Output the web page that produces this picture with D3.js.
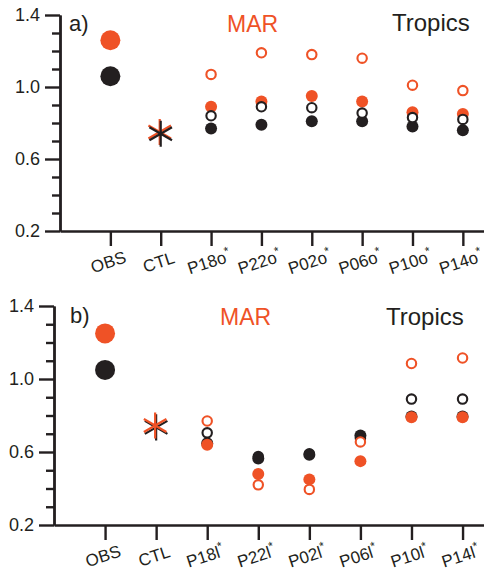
<!DOCTYPE html>
<html>
<head>
<meta charset="utf-8">
<script src="https://cdn.jsdelivr.net/npm/d3@7"></script>
<style>
  body { margin: 0; background: #fff; }
  svg { display: block; font-family: "Liberation Sans", Helvetica, Arial, sans-serif; }
  .axis path, .axis line { stroke: #231f20; stroke-width: 2.4; }
  .axis text { fill: #231f20; font-size: 18px; }
</style>
</head>
<body>
<svg id="chart" width="484" height="572"></svg>
<script>
// categories
var catsA = ["OBS", "CTL", "P18o", "P22o", "P02o", "P06o", "P10o", "P14o"]
var catsB = ["OBS", "CTL", "P18l", "P22l", "P02l", "P06l", "P10l", "P14l"]

// OBS big dots [orange, black]
var obsA = [1.26, 1.06]
var obsB = [1.25, 1.05]
// CTL asterisks [orange, black]
var ctlA = [0.75, 0.74]
var ctlB = [0.745, 0.735]

// experiments (third category onwards)
var orangeFilledA = [0.89, 0.92, 0.95, 0.92, 0.86, 0.85]
var blackFilledA = [0.77, 0.79, 0.81, 0.81, 0.78, 0.76]
var orangeOpenA = [1.07, 1.19, 1.18, 1.16, 1.01, 0.98]
var blackOpenA = [0.84, 0.89, 0.885, 0.855, 0.83, 0.82]

var orangeFilledB = [0.64, 0.48, 0.45, 0.55, 0.79, 0.79]
var blackFilledB = [0.648, 0.565, 0.585, 0.69, 0.795, 0.795]
var orangeOpenB = [0.77, 0.42, 0.395, 0.655, 1.085, 1.115]
var blackOpenB = [0.705, 0.575, 0.59, 0.675, 0.89, 0.89]

var majorTicks = [0.2, 0.6, 1.0, 1.4]
var minorTicks = [0.3, 0.4, 0.5, 0.7, 0.8, 0.9, 1.1, 1.2, 1.3]

var ORANGE = "#ef5226"
var BLACK = "#231f20"

var svg = d3.select("#chart")

function drawPanel(opt) {
    var g = svg.append("g").attr("transform", "translate(" + opt.left + "," + opt.top + ")")
    var width = 484 - opt.left,
        height = opt.height

    var x = d3.scaleLinear().domain([-1, 7.42]).range([0, width])
    var y = d3.scaleLinear().domain([0.2, 1.4]).range([height, 0])

    // y axis
    g.append("g").attr("class", "axis")
        .call(d3.axisLeft(y).tickValues(minorTicks).tickSize(8).tickSizeOuter(0).tickFormat(""))
    g.append("g").attr("class", "axis")
        .call(d3.axisLeft(y).tickValues(majorTicks).tickSize(15).tickSizeOuter(0).tickPadding(5).tickFormat(d3.format(".1f")))

    // x axis
    g.append("g").attr("class", "axis")
        .attr("transform", "translate(0," + height + ")")
        .call(d3.axisBottom(x).tickValues(d3.range(opt.cats.length)).tickSize(15).tickSizeOuter(0).tickFormat(""))

    var lab = g.selectAll(".xlab").data(opt.cats).enter().append("text")
        .attr("class", "xlab")
        .attr("transform", function (d, i) { return "translate(" + (x(i) - 2) + "," + (height + 31) + ") rotate(-18)" })
        .attr("text-anchor", "middle")
        .attr("dy", "0.35em")
        .attr("fill", BLACK)
        .style("font-size", "17px")
    lab.append("tspan").text(function (d) { return d })
    lab.filter(function (d, i) { return i > 1 }).append("tspan")
        .attr("dy", "-7")
        .style("font-size", "12px")
        .text("*")

    var exp = d3.range(2, opt.cats.length)

    function filled(vals, color) {
        g.selectAll(null).data(vals).enter().append("circle")
            .attr("cx", function (d, i) { return x(exp[i]) })
            .attr("cy", function (d) { return y(d) })
            .attr("r", 6)
            .attr("fill", color)
    }
    function open(vals, color) {
        g.selectAll(null).data(vals).enter().append("circle")
            .attr("cx", function (d, i) { return x(exp[i]) })
            .attr("cy", function (d) { return y(d) })
            .attr("r", 4.7)
            .attr("fill", "#fff")
            .attr("stroke", color)
            .attr("stroke-width", 2.1)
    }

    // OBS
    g.selectAll(null).data(opt.obs).enter().append("circle")
        .attr("cx", x(0))
        .attr("cy", function (d) { return y(d) })
        .attr("r", 10)
        .attr("fill", function (d, i) { return i == 0 ? ORANGE : BLACK })

    // CTL asterisks
    var star = d3.symbol(d3.symbolAsterisk, 480)
    var ctlOrder = opt.orangeStarOnTop ? [1, 0] : [0, 1]
    ctlOrder.forEach(function (k) {
        g.append("path")
            .attr("d", star())
            .attr("transform", "translate(" + (x(1) + (k == 0 ? -1 : 0)) + "," + y(opt.ctl[k]) + ")")
            .attr("fill", "none")
            .attr("stroke", k == 0 ? ORANGE : BLACK)
            .attr("stroke-width", 2.2)
    })

    if (opt.ringsOverFilled) {
        filled(opt.blackFilled, BLACK)
        filled(opt.orangeFilled, ORANGE)
        open(opt.blackOpen, BLACK)
        open(opt.orangeOpen, ORANGE)
    } else {
        open(opt.blackOpen, BLACK)
        filled(opt.blackFilled, BLACK)
        filled(opt.orangeFilled, ORANGE)
        open(opt.orangeOpen, ORANGE)
    }
}

drawPanel({
    left: 60, top: 15, height: 216, cats: catsA, obs: obsA, ctl: ctlA,
    orangeFilled: orangeFilledA, blackFilled: blackFilledA,
    orangeOpen: orangeOpenA, blackOpen: blackOpenA,
    ringsOverFilled: true, orangeStarOnTop: false
})
drawPanel({
    left: 54, top: 306, height: 219, cats: catsB, obs: obsB, ctl: ctlB,
    orangeFilled: orangeFilledB, blackFilled: blackFilledB,
    orangeOpen: orangeOpenB, blackOpen: blackOpenB,
    ringsOverFilled: false, orangeStarOnTop: true
})

// panel titles
function title(t, px, py, color, size) {
    svg.append("text").attr("x", px).attr("y", py)
        .attr("fill", color).style("font-size", size + "px").text(t)
}
title("a)", 69, 31, BLACK, 22)
title("MAR", 227, 32, ORANGE, 23)
title("Tropics", 392, 31, BLACK, 24)
title("b)", 70, 323, BLACK, 22)
title("MAR", 220, 325, ORANGE, 23)
title("Tropics", 386, 325, BLACK, 24)
</script>
</body>
</html>
